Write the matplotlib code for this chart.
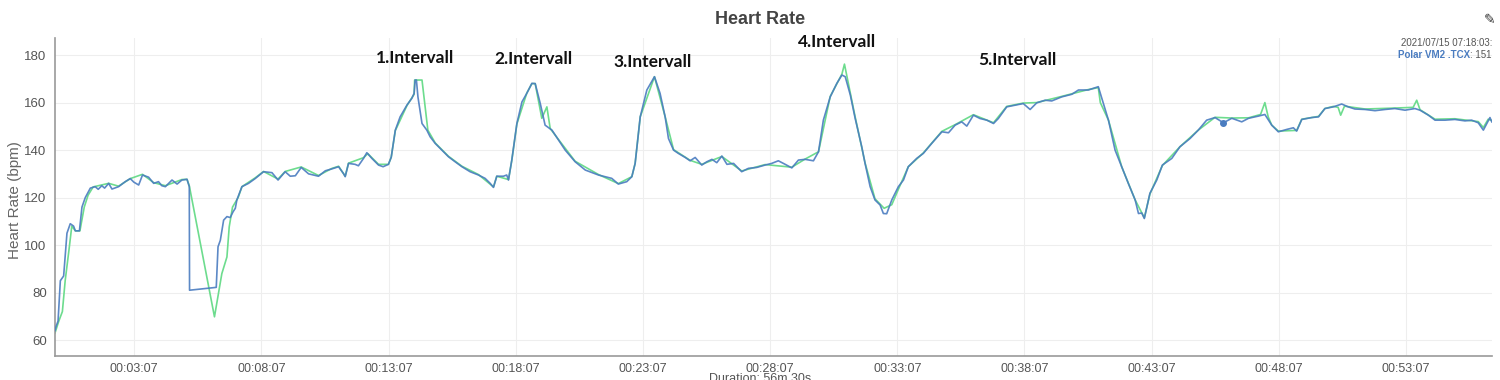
import matplotlib
matplotlib.use("Agg")
import matplotlib.pyplot as plt
from matplotlib.ticker import FixedLocator


# Blue series (Polar VM2 .TCX), minutes / bpm
blue_min = [0.0, 0.05, 0.12, 0.21, 0.34, 0.47, 0.60, 0.73, 0.80, 0.96, 1.06, 1.19, 1.39, 1.58, 1.70,
            1.84, 1.95, 2.11, 2.24, 2.50, 2.76, 2.96, 3.10, 3.29, 3.44, 3.68, 3.88, 4.07, 4.20, 4.34,
            4.60, 4.80, 4.99, 5.19, 5.28, 5.29, 6.34, 6.41, 6.50, 6.63, 6.76, 6.89, 7.00, 7.09, 7.15,
            7.35, 7.61, 7.87, 8.20, 8.53, 8.77, 9.05, 9.25, 9.45, 9.68, 9.97, 10.36, 10.63, 10.89, 11.15,
            11.35, 11.41, 11.54, 11.80, 11.93, 12.13, 12.26, 12.46, 12.72, 12.90, 13.11, 13.22, 13.38, 13.57, 13.84,
            14.03, 14.12, 14.16, 14.21, 14.27, 14.43, 14.62, 14.75, 14.95, 15.21, 15.47, 15.73, 16.00, 16.32, 16.65,
            16.91, 17.11, 17.24, 17.37, 17.63, 17.76, 17.83, 17.96, 18.16, 18.36, 18.55, 18.75, 18.88, 19.08, 19.27,
            19.54, 19.80, 20.06, 20.45, 20.85, 21.37, 21.89, 22.15, 22.48, 22.68, 22.81, 23.01, 23.27, 23.57, 23.79,
            23.99, 24.12, 24.32, 24.51, 24.78, 24.97, 25.17, 25.43, 25.63, 25.83, 26.02, 26.22, 26.42, 26.68, 26.81,
            27.00, 27.26, 27.59, 27.92, 28.18, 28.44, 28.71, 28.97, 29.23, 29.49, 29.82, 30.02, 30.21, 30.48, 30.74,
            30.94, 31.07, 31.27, 31.46, 31.72, 31.85, 32.05, 32.24, 32.44, 32.57, 32.70, 32.90, 33.16, 33.36, 33.55,
            33.88, 34.14, 34.47, 34.87, 35.13, 35.39, 35.65, 35.85, 36.11, 36.37, 36.64, 36.90, 37.09, 37.42, 37.75,
            38.07, 38.34, 38.60, 38.93, 39.19, 39.58, 39.98, 40.24, 40.63, 41.02, 41.16, 41.42, 41.68, 41.94, 42.20,
            42.47, 42.60, 42.73, 42.83, 43.05, 43.32, 43.54, 43.91, 44.23, 44.63, 44.95, 45.28, 45.61, 45.94, 46.27,
            46.66, 46.93, 47.31, 47.57, 47.84, 48.10, 48.43, 48.69, 48.82, 49.02, 49.41, 49.68, 49.93, 50.26, 50.59,
            50.85, 51.11, 51.51, 51.90, 52.29, 52.68, 53.08, 53.47, 53.67, 54.00, 54.26, 54.65, 55.04, 55.44, 55.70,
            55.96, 56.16, 56.42, 56.49]
blue_hr = [64, 66, 68, 85, 87, 105, 109, 108, 106, 106, 116, 120, 124, 124.6, 123.5,
           125, 124, 126, 123.6, 124.6, 126.7, 128, 126.5, 125.3, 129.5, 128.6, 126, 126.7, 125, 124.6,
           127.4, 125.7, 127.4, 127.7, 124.6, 81, 82.2, 99.3, 102, 110.5, 112, 111.6, 114, 115.5, 119,
           124.6, 126, 128, 130.9, 130.5, 127.4, 130.9, 129, 129.2, 132.7, 130, 129, 131.3, 132.1, 133,
           130, 128.8, 134.4, 134, 133.4, 136.5, 138.9, 136.5, 133.7, 133, 134, 137, 148.4, 154, 159,
           161.8, 163.9, 169.5, 169.5, 162.4, 151.2, 148.4, 145.6, 142.8, 140, 137.2, 135.1, 133, 130.9, 129.5,
           128.1, 126, 124.3, 129, 129, 129.5, 127.4, 135.8, 151.2, 160.3, 163.9, 168.1, 168, 159.6, 150.5,
           148.4, 144.2, 140, 135.1, 131.6, 129.5, 128.1, 125.7, 126.7, 128.8, 134.4, 154, 165.3, 170.9, 163.9,
           154, 144.9, 140, 138.6, 136.9, 135.5, 136.9, 133.7, 135.1, 136.1, 134.7, 137.5, 134, 134.4, 133,
           130.9, 132.3, 132.7, 133.7, 134.4, 135.5, 134, 132.5, 135.8, 136.1, 135.5, 139.3, 152.6, 162.4, 168.1,
           171.6, 170.9, 163.2, 153.4, 141.4, 134.4, 124.6, 119, 116.9, 113.3, 113.2, 119, 124.6, 127.4, 133,
           136.5, 138.6, 142.8, 147.7, 147.3, 150.5, 151.9, 150.1, 154.7, 153.3, 152.6, 151.2, 153.3, 158.2, 158.9,
           159.6, 157.1, 159.9, 161, 160.7, 162.4, 163.5, 165.3, 165.3, 166.7, 161.8, 152.6, 140, 133, 126,
           119, 113.3, 113.5, 111.2, 121.8, 127.4, 133.7, 136.5, 141.4, 144.9, 148.4, 152.6, 153.7, 151.5, 153.4,
           151.9, 153.4, 154.3, 155, 150.5, 147.7, 148.7, 149.4, 148, 152.9, 153.7, 154, 157.5, 158.2, 159.4,
           158.2, 157.3, 157.1, 156.6, 157.1, 157.5, 156.8, 157.5, 156.8, 154.7, 152.6, 152.6, 152.9, 152.3, 152.6,
           151.5, 148.4, 153.7, 151.9]

# Green series (second recording)
green_min = [0.0, 0.15, 0.29, 0.40, 0.55, 0.66, 0.80, 0.98, 1.15, 1.30, 1.50, 2.11, 2.50, 2.96, 3.44,
             3.88, 4.34, 4.99, 5.19, 5.28, 6.27, 6.43, 6.56, 6.76, 6.85, 6.98, 7.20, 7.35, 7.87, 8.20,
             8.77, 9.05, 9.68, 10.36, 10.89, 11.15, 11.41, 11.54, 12.13, 12.30, 12.72, 13.11, 13.22, 13.38, 13.84,
             14.12, 14.14, 14.43, 14.66, 14.95, 15.47, 16.00, 16.65, 17.24, 17.37, 17.83, 17.96, 18.16, 18.55, 18.75,
             18.88, 19.14, 19.34, 19.47, 19.80, 20.45, 21.37, 22.15, 22.68, 22.81, 23.01, 23.57, 23.99, 24.32, 24.97,
             25.43, 26.22, 27.00, 27.92, 28.97, 29.49, 30.02, 30.48, 30.94, 31.04, 31.46, 31.85, 32.24, 32.60, 32.90,
             33.16, 33.55, 34.14, 34.87, 35.39, 36.11, 36.90, 37.42, 38.07, 38.60, 39.58, 40.63, 41.02, 41.10, 41.42,
             41.94, 42.47, 42.83, 43.05, 43.54, 44.23, 44.95, 45.61, 46.27, 46.93, 47.40, 47.57, 47.70, 47.84, 48.10,
             48.82, 49.02, 49.68, 49.93, 50.26, 50.45, 50.55, 50.70, 51.51, 52.68, 53.40, 53.54, 53.67, 54.26, 55.04,
             55.96, 56.16, 56.35, 56.49]
green_hr = [63, 68, 72, 85, 98, 108, 106, 106, 116, 121, 124.5, 126, 124.8, 128, 129.8,
            126.3, 125, 127.6, 127.7, 125, 69.8, 79.7, 88, 95, 107.7, 116, 120, 124.6, 128.3, 131,
            127.8, 131, 132.9, 129.3, 132.3, 133.2, 129, 134.5, 136.8, 138.5, 134, 134, 137, 148.2, 158.8,
            163.5, 169.5, 169.5, 148.4, 143, 137.4, 133.2, 129.7, 124.5, 129, 127.6, 135.6, 151, 164, 168,
            168, 153.4, 158.2, 149.1, 144.4, 135.3, 129.7, 125.9, 128.8, 134.4, 154, 170.9, 154, 140.2, 135.7,
            134, 137.3, 131.2, 133.9, 132.8, 136.2, 139.3, 162.6, 172, 176.2, 154, 134.6, 119.5, 115.5, 117,
            123.5, 133, 138.8, 147.9, 150.7, 154.9, 151.5, 158.4, 159.8, 160, 162.6, 165.5, 166.3, 160, 152.6,
            133, 119, 111.5, 121.5, 133.5, 141.4, 148.4, 153.8, 153.5, 153.6, 155, 160, 154, 150.5, 148,
            148.3, 153, 154.2, 157.5, 158.4, 158, 154.7, 158.5, 157.3, 157.7, 158, 161, 157, 153, 153.2,
            152, 149.5, 153, 152.5]

hover_idx = 208  # blue point under the tooltip

y_ticks = [60, 80, 100, 120, 140, 160, 180]
x_tick_min = [3 + 7 / 60 + 5 * k for k in range(11)]
x_tick_labels = ["00:03:07", "00:08:07", "00:13:07", "00:18:07", "00:23:07", "00:28:07",
                 "00:33:07", "00:38:07", "00:43:07", "00:48:07", "00:53:07"]

interval_labels = ["1.Intervall", "2.Intervall", "3.Intervall", "4.Intervall", "5.Intervall"]
interval_min = [14.17, 18.80, 23.48, 30.75, 37.83]
interval_hr = [178.7, 178.3, 177.0, 185.5, 177.9]

BLUE = "#4a7cc0"
GREEN = "#6ddc8e"

plt.rcParams['font.family'] = ['Liberation Sans', 'DejaVu Sans']

fig = plt.figure(figsize=(15, 3.8), dpi=100)
ax = fig.add_axes([55 / 1500, 1 - 356 / 380, (1492 - 55) / 1500, (356 - 38) / 380])

ax.plot(green_min, green_hr, color=GREEN, lw=1.2, zorder=2)
ax.plot(blue_min, blue_hr, color=BLUE, lw=1.2, alpha=0.9, zorder=3)
ax.plot(blue_min[hover_idx], blue_hr[hover_idx], "o", color=BLUE, ms=4, zorder=4)

ax.set_xlim(0, 56.5)
ax.set_ylim(53.3, 187.2)
ax.yaxis.set_major_locator(FixedLocator(y_ticks))
ax.set_xticks(x_tick_min)
ax.set_xticklabels(x_tick_labels)
ax.tick_params(axis="x", length=0, labelsize=9, colors="#555555", pad=5)
ax.tick_params(axis="y", length=0, labelsize=9.5, colors="#555555", pad=6)
ax.grid(True, color="#eeeeee", lw=0.8)
ax.set_axisbelow(True)
for side in ["top", "right"]:
    ax.spines[side].set_visible(False)
for side in ["left", "bottom"]:
    ax.spines[side].set_color("#999999")
    ax.spines[side].set_linewidth(1.2)

ax.set_ylabel("Heart Rate (bpm)", fontsize=11, color="#666666")
ax.yaxis.set_label_coords(-0.023, 0.49)

for lab, t, hr in zip(interval_labels, interval_min, interval_hr):
    ax.text(t, hr, lab, ha="center", va="center", fontsize=12.5, fontweight="bold",
            family=["Lato", "DejaVu Sans"], color="#111111")

fig.text(760 / 1500, 1 - 20 / 380, "Heart Rate", ha="center", va="center",
         fontsize=13, fontweight="bold", color="#444444")
fig.text(1492 / 1500, 1 - 43 / 380, "2021/07/15 07:18:03:", ha="right", va="center",
         fontsize=7, color="#555555")
t1 = fig.text(1492 / 1500, 1 - 55 / 380, ": 151", ha="right", va="center", fontsize=7, color="#555555")
fig.canvas.draw()
bb = t1.get_window_extent()
fig.text(bb.x0 / 1500, 1 - 55 / 380, "Polar VM2 .TCX", ha="right", va="center",
         fontsize=7, fontweight="bold", color=BLUE)
fig.text(1490 / 1500, 1 - 20 / 380, "\u270e", ha="center", va="center", fontsize=10,
         color="#333333", family=["DejaVu Sans"])
fig.text(760 / 1500, 1 - 373 / 380, "Duration: 56m 30s", ha="center", va="top",
         fontsize=9, color="#555555")

fig.savefig("out.png", dpi=100)
